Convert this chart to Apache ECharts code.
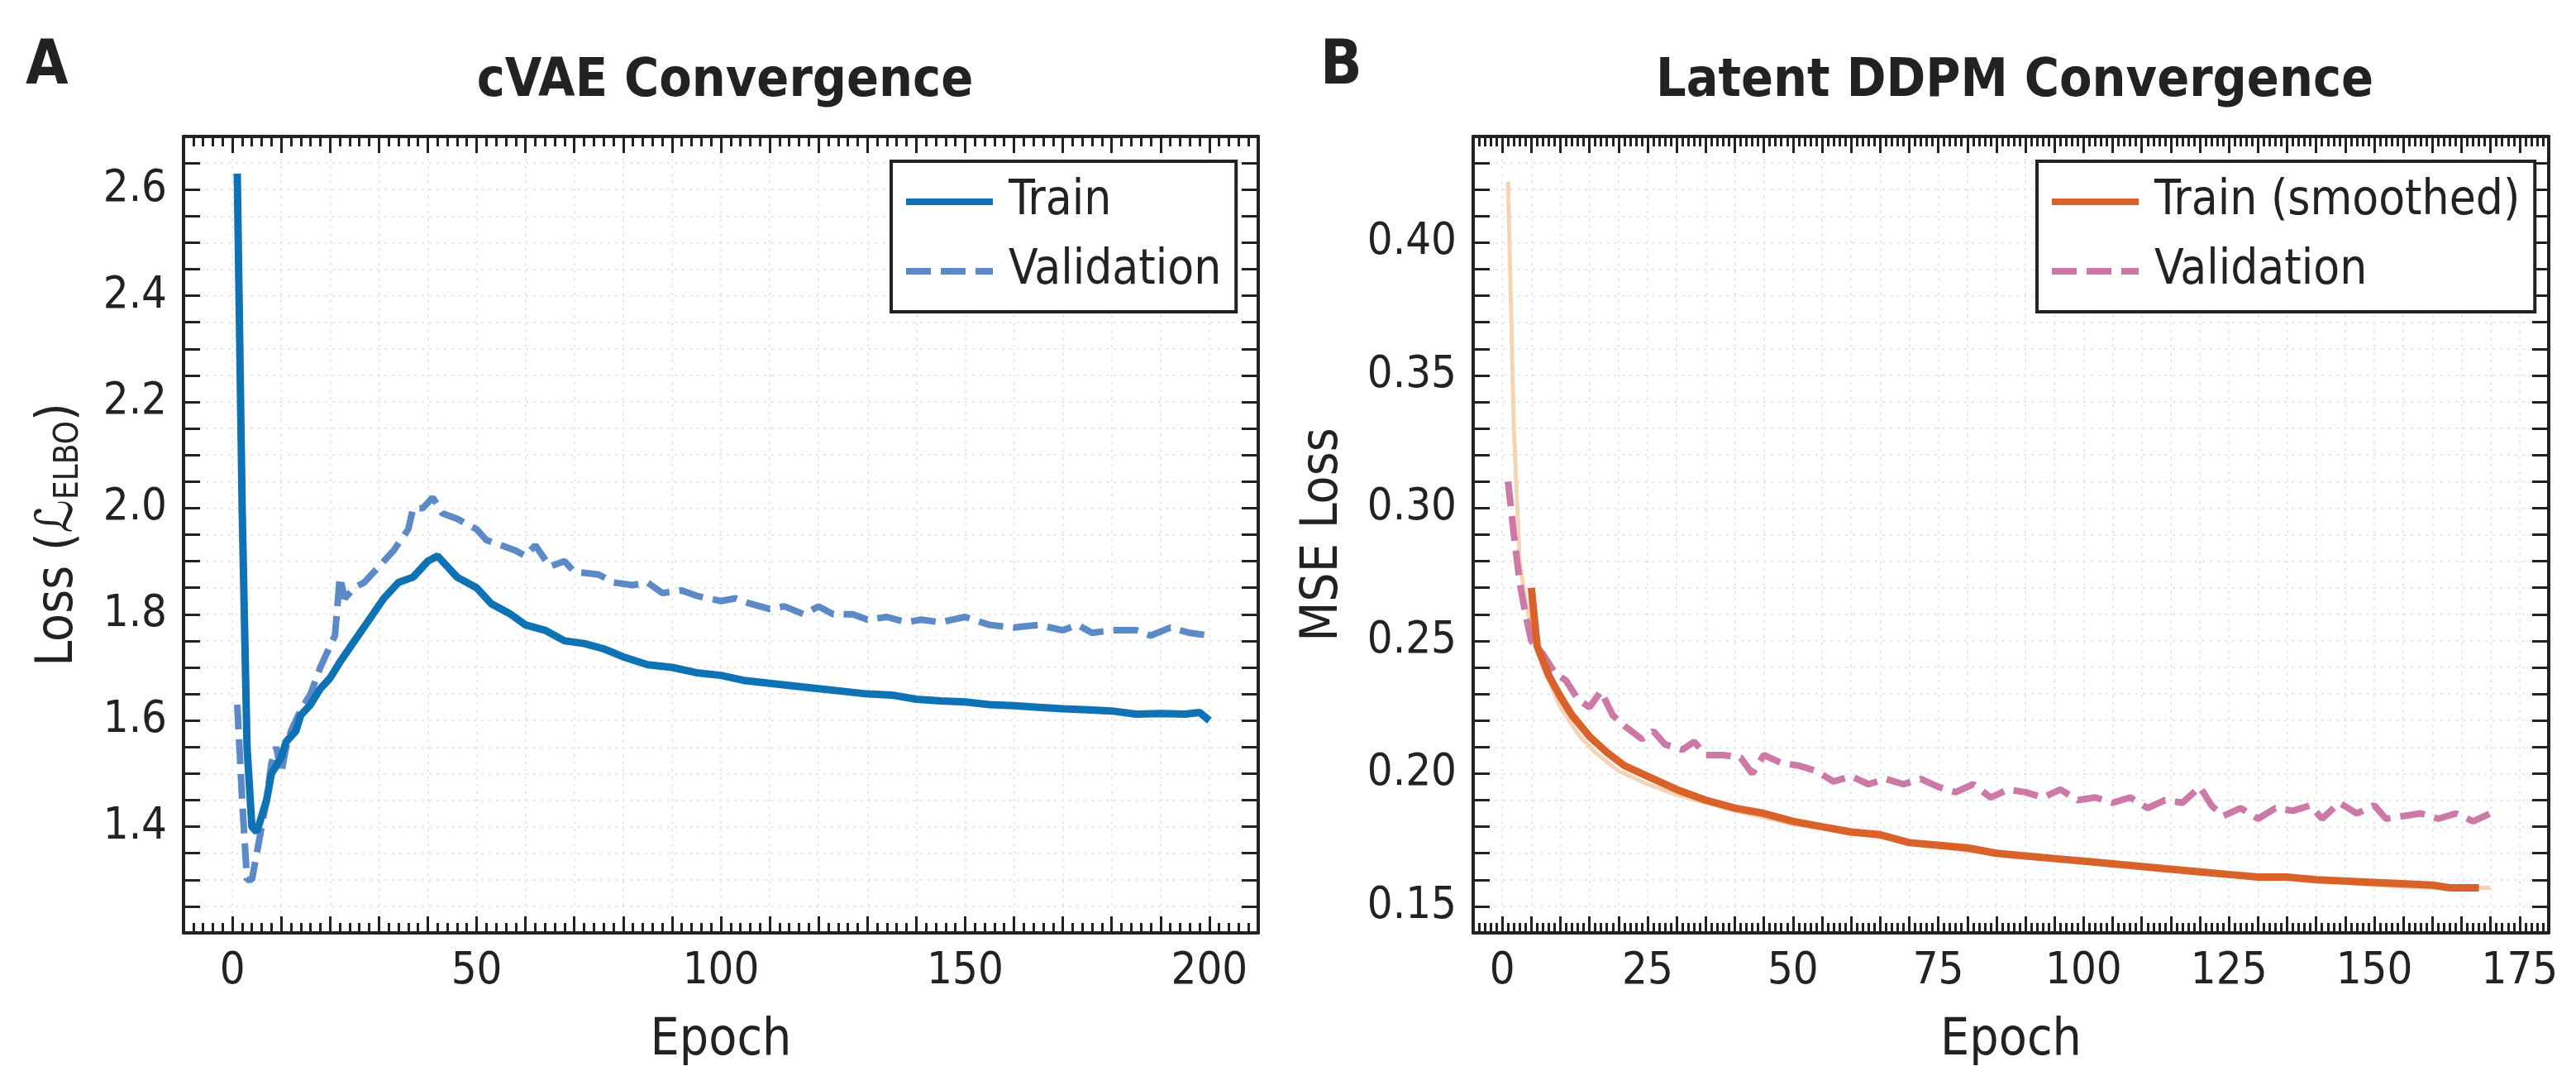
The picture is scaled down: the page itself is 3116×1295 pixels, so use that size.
<!DOCTYPE html>
<html>
<head>
<meta charset="utf-8">
<script src="https://cdn.jsdelivr.net/npm/echarts@6/dist/echarts.min.js"></script>
<style>
  html, body { margin: 0; padding: 0; background: #fff; }
  #main { width: 3116px; height: 1295px; }
</style>
</head>
<body>
<div id="main"></div>
<script>
// cVAE 曲线
var vaeTrainEpoch = [1, 2, 3, 4, 5, 6, 7, 8, 10, 11, 13, 14, 16, 18, 20, 22, 25, 28, 31, 34, 37, 40, 42, 44, 46, 50, 53, 57, 60, 64, 68, 72, 76, 80, 85, 90, 95, 100, 105, 110, 115, 120, 125, 130, 135, 140, 145, 150, 155, 160, 165, 170, 175, 180, 185, 190, 195, 198, 200];
var vaeTrainLoss = [2.63, 2.0, 1.55, 1.40, 1.39, 1.42, 1.45, 1.50, 1.53, 1.56, 1.58, 1.61, 1.63, 1.66, 1.68, 1.71, 1.75, 1.79, 1.83, 1.86, 1.87, 1.90, 1.91, 1.89, 1.87, 1.85, 1.82, 1.80, 1.78, 1.77, 1.75, 1.745, 1.735, 1.72, 1.705, 1.70, 1.69, 1.685, 1.675, 1.67, 1.665, 1.66, 1.655, 1.65, 1.648, 1.64, 1.637, 1.635, 1.63, 1.628, 1.625, 1.622, 1.62, 1.618, 1.612, 1.613, 1.612, 1.615, 1.60];
var vaeValEpoch = [1, 2, 3, 4, 5, 6, 7, 8, 9, 10, 11, 12, 14, 16, 18, 20, 21, 22, 23, 25, 27, 30, 33, 36, 37, 39, 41, 43, 46, 48, 50, 52, 55, 58, 60, 62, 65, 68, 70, 75, 78, 82, 85, 88, 92, 95, 100, 103, 106, 110, 113, 117, 120, 123, 127, 130, 134, 138, 141, 145, 150, 155, 160, 165, 170, 173, 176, 180, 185, 188, 192, 196, 200];
var vaeValLoss = [1.63, 1.45, 1.30, 1.30, 1.35, 1.40, 1.45, 1.52, 1.55, 1.50, 1.55, 1.58, 1.62, 1.65, 1.70, 1.74, 1.76, 1.87, 1.83, 1.85, 1.86, 1.89, 1.92, 1.96, 2.00, 2.00, 2.02, 1.99, 1.98, 1.97, 1.96, 1.94, 1.93, 1.92, 1.91, 1.93, 1.89, 1.90, 1.88, 1.875, 1.86, 1.855, 1.86, 1.84, 1.845, 1.835, 1.825, 1.83, 1.82, 1.81, 1.815, 1.80, 1.815, 1.80, 1.80, 1.79, 1.795, 1.785, 1.79, 1.785, 1.795, 1.78, 1.775, 1.78, 1.77, 1.78, 1.765, 1.77, 1.77, 1.76, 1.775, 1.765, 1.76];

// DDPM 曲线
var ddpmRawEpoch = [1, 2, 3, 4, 5, 7, 10, 13, 16, 20, 25, 30, 40, 50, 60, 70, 80, 90, 100, 110, 120, 130, 140, 150, 160, 170];
var ddpmRawLoss = [0.423, 0.33, 0.28, 0.265, 0.255, 0.24, 0.225, 0.215, 0.208, 0.201, 0.196, 0.192, 0.186, 0.181, 0.178, 0.174, 0.171, 0.169, 0.167, 0.165, 0.163, 0.161, 0.160, 0.158, 0.157, 0.157];
var ddpmSmoothEpoch = [5, 6, 8, 10, 12, 15, 18, 21, 25, 30, 35, 40, 45, 50, 55, 60, 65, 70, 75, 80, 85, 90, 95, 100, 110, 120, 125, 130, 135, 140, 150, 160, 163, 168];
var ddpmSmoothLoss = [0.27, 0.248, 0.237, 0.229, 0.222, 0.214, 0.208, 0.203, 0.199, 0.194, 0.190, 0.187, 0.185, 0.182, 0.180, 0.178, 0.177, 0.174, 0.173, 0.172, 0.170, 0.169, 0.168, 0.167, 0.165, 0.163, 0.162, 0.161, 0.161, 0.160, 0.159, 0.158, 0.157, 0.157];
var ddpmValEpoch = [1, 2, 3, 4, 5, 7, 9, 11, 13, 15, 17, 19, 21, 24, 26, 28, 31, 33, 35, 38, 41, 43, 45, 48, 51, 54, 57, 60, 63, 66, 69, 72, 75, 78, 81, 84, 87, 90, 93, 96, 99, 102, 105, 108, 111, 114, 117, 120, 122, 124, 127, 130, 133, 136, 139, 141, 144, 147, 150, 152, 155, 158, 161, 164, 167, 170];
var ddpmValLoss = [0.31, 0.29, 0.272, 0.26, 0.25, 0.245, 0.238, 0.235, 0.228, 0.225, 0.231, 0.222, 0.218, 0.213, 0.216, 0.211, 0.209, 0.212, 0.207, 0.207, 0.206, 0.200, 0.207, 0.204, 0.203, 0.201, 0.197, 0.199, 0.196, 0.198, 0.196, 0.198, 0.195, 0.193, 0.196, 0.191, 0.194, 0.193, 0.191, 0.194, 0.190, 0.191, 0.189, 0.191, 0.187, 0.190, 0.189, 0.195, 0.188, 0.184, 0.187, 0.183, 0.187, 0.186, 0.188, 0.183, 0.189, 0.185, 0.188, 0.183, 0.184, 0.185, 0.183, 0.185, 0.182, 0.185];

function pairs(xs, ys) {
    return xs.map(function (x, i) { return [x, ys[i]]; });
}

var FONT = '"DejaVu Sans Condensed", "DejaVu Sans", sans-serif';
var INK = '#222222';

// 坐标轴：主轴带标签，副轴只画刻度（四边都有刻度）
function axis(gridIndex, pos, min, max, interval, split, labelStep, digits, name, nameGap, withLabel) {
    var a = {
        type: 'value', gridIndex: gridIndex, position: pos,
        min: min, max: max, interval: interval,
        axisLine: { show: true, onZero: false, lineStyle: { color: INK, width: 4 } },
        axisTick: { show: true, inside: true, length: 20, lineStyle: { color: INK, width: 3 } },
        minorTick: { show: true, splitNumber: split, length: 12, lineStyle: { color: INK, width: 3 } },
        splitLine: { show: false },
        axisLabel: { show: false }
    };
    if (withLabel) {
        a.axisLabel = {
            show: true, color: INK, fontFamily: FONT, fontSize: 54, margin: 20,
            showMinLabel: false, showMaxLabel: false,
            formatter: function (v) {
                var r = Math.round(v / labelStep);
                if (Math.abs(v - r * labelStep) > 1e-6) return '';
                return v.toFixed(digits);
            }
        };
        a.splitLine = { show: true, lineStyle: { color: '#e8e8e8', width: 2, type: [3, 6] } };
        a.name = name;
        a.nameLocation = 'middle';
        a.nameGap = nameGap;
        a.nameTextStyle = {
            color: INK, fontFamily: FONT, fontSize: 62,
            rich: { sub: { fontFamily: FONT, fontSize: 40, color: INK, verticalAlign: 'bottom', padding: [26, 0, 0, 0] } }
        };
    }
    return a;
}

function legendBox(names, left) {
    return {
        data: names, left: left, top: 195, orient: 'vertical',
        itemWidth: 105, itemHeight: 14, itemGap: 26, padding: [20, 18, 20, 14],
        borderColor: INK, borderWidth: 4, borderRadius: 0, backgroundColor: '#fff',
        itemStyle: { opacity: 0 },
        lineStyle: { width: 8 },
        textStyle: { fontFamily: FONT, fontSize: 58, color: INK, padding: [0, 0, 0, 14] }
    };
}

var chart = echarts.init(document.getElementById('main'));

var option = {
    backgroundColor: '#ffffff',
    animation: false,
    title: [
        { text: 'cVAE Convergence', left: 872, top: 62, textAlign: 'center',
          textStyle: { fontFamily: FONT, fontWeight: 'bold', fontSize: 64, color: INK } },
        { text: 'Latent DDPM Convergence', left: 2432, top: 62, textAlign: 'center',
          textStyle: { fontFamily: FONT, fontWeight: 'bold', fontSize: 64, color: INK } },
        { text: 'A', left: 26, top: 40, textStyle: { fontFamily: FONT, fontWeight: 'bold', fontSize: 74, color: INK } },
        { text: 'B', left: 1592, top: 40, textStyle: { fontFamily: FONT, fontWeight: 'bold', fontSize: 74, color: INK } }
    ],
    grid: [
        { left: 222, top: 165, width: 1300, height: 1210 },
        { left: 1782, top: 165, width: 1301, height: 1210 }
    ],
    legend: [
        legendBox(['Train', 'Validation'], 1078),
        legendBox(['Train (smoothed)', 'Validation '], 2464)
    ],
    xAxis: [
        axis(0, 'bottom', -10, 210, 10, 5, 50, 0, 'Epoch', 100, true),
        axis(0, 'top', -10, 210, 10, 5, 50, 0, '', 0, false),
        axis(1, 'bottom', -5, 180, 5, 5, 25, 0, 'Epoch', 100, true),
        axis(1, 'top', -5, 180, 5, 5, 25, 0, '', 0, false)
    ],
    yAxis: [
        axis(0, 'left', 1.2, 2.7, 0.05, 1, 0.2, 1, 'Loss (ℒ{sub|ELBO})', 118, true),
        axis(0, 'right', 1.2, 2.7, 0.05, 1, 0.2, 1, '', 0, false),
        axis(1, 'left', 0.14, 0.44, 0.01, 1, 0.05, 2, 'MSE Loss', 150, true),
        axis(1, 'right', 0.14, 0.44, 0.01, 1, 0.05, 2, '', 0, false)
    ],
    series: [
        { name: 'Validation', type: 'line', xAxisIndex: 0, yAxisIndex: 0, showSymbol: false, symbol: 'none',
          itemStyle: { color: '#5b8ac6' },
          lineStyle: { color: '#5b8ac6', width: 8, type: [30, 12] }, z: 2,
          data: pairs(vaeValEpoch, vaeValLoss) },
        { name: 'Train', type: 'line', xAxisIndex: 0, yAxisIndex: 0, showSymbol: false, symbol: 'none',
          itemStyle: { color: '#0f72b4' },
          lineStyle: { color: '#0f72b4', width: 9 }, z: 3,
          data: pairs(vaeTrainEpoch, vaeTrainLoss) },
        { name: 'raw', type: 'line', xAxisIndex: 2, yAxisIndex: 2, showSymbol: false, symbol: 'none',
          lineStyle: { color: '#f7d3b6', width: 5 }, z: 1,
          data: pairs(ddpmRawEpoch, ddpmRawLoss) },
        { name: 'Validation ', type: 'line', xAxisIndex: 2, yAxisIndex: 2, showSymbol: false, symbol: 'none',
          itemStyle: { color: '#cc79a7' },
          lineStyle: { color: '#cc79a7', width: 8, type: [30, 12] }, z: 2,
          data: pairs(ddpmValEpoch, ddpmValLoss) },
        { name: 'Train (smoothed)', type: 'line', xAxisIndex: 2, yAxisIndex: 2, showSymbol: false, symbol: 'none',
          itemStyle: { color: '#d9622b' },
          lineStyle: { color: '#d9622b', width: 9 }, z: 3,
          data: pairs(ddpmSmoothEpoch, ddpmSmoothLoss) }
    ]
};

chart.setOption(option);
</script>
</body>
</html>
